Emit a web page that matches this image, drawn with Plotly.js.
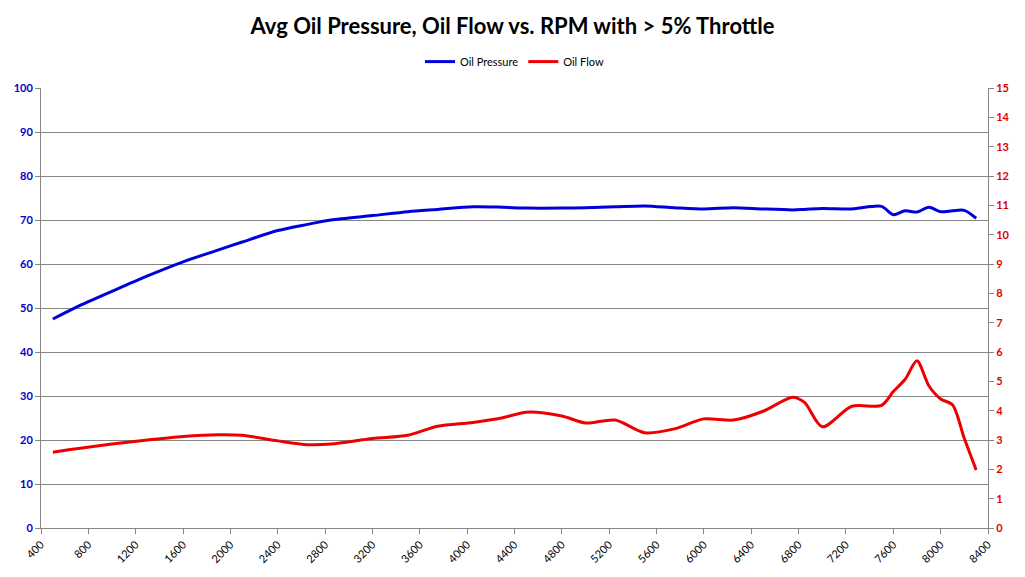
<!DOCTYPE html>
<html>
<head>
<meta charset="utf-8">
<script src="https://cdn.plot.ly/plotly-3.0.1.min.js"></script>
<style>
  html, body { margin: 0; padding: 0; background: #fff; }
  #myDiv { width: 1025px; height: 577px; outline: 1px solid #8c8c8c; outline-offset: -1px; }
</style>
</head>
<body>
<div id="myDiv"></div>
<script>
// rpm samples
var rpm = [500, 700, 1000, 1300, 1600, 1900, 2100, 2400, 2650, 2850, 3200, 3500, 3750, 4050,
           4300, 4500, 4800, 5000, 5250, 5500, 5750, 6000, 6250, 6500, 6750, 6850, 7000,
           7250, 7500, 7600, 7700, 7800, 7900, 8000, 8100, 8200, 8300];

var oilPressure = [47.5, 50.2, 53.8, 57.3, 60.5, 63.2, 65.0, 67.6, 69.0, 70.0, 71.0, 71.9, 72.4, 73.0,
                   72.9, 72.7, 72.7, 72.8, 73.0, 73.2, 72.8, 72.5, 72.8, 72.5, 72.3, 72.4, 72.6,
                   72.5, 73.1, 71.2, 72.1, 71.8, 72.9, 71.9, 72.1, 72.2, 70.4];

var oilFlow = [2.58, 2.70, 2.86, 3.00, 3.12, 3.18, 3.16, 2.97, 2.84, 2.86, 3.05, 3.16, 3.47, 3.60,
               3.76, 3.95, 3.82, 3.58, 3.68, 3.25, 3.38, 3.72, 3.68, 3.98, 4.46, 4.28, 3.45,
               4.15, 4.18, 4.65, 5.07, 5.70, 4.85, 4.40, 4.20, 3.05, 1.98];

var xTicks = [];
for (var t = 400; t <= 8400; t += 400) xTicks.push(t);

var pressureTrace = {
  x: rpm,
  y: oilPressure,
  mode: 'lines',
  type: 'scatter',
  name: 'Oil Pressure',
  line: { color: '#0000dd', width: 3, shape: 'spline', smoothing: 0.8 },
  yaxis: 'y'
};

var flowTrace = {
  x: rpm,
  y: oilFlow,
  mode: 'lines',
  type: 'scatter',
  name: 'Oil Flow',
  line: { color: '#ee0000', width: 3, shape: 'spline', smoothing: 0.8 },
  yaxis: 'y2'
};

var layout = {
  width: 1025,
  height: 577,
  margin: { l: 41, r: 37, t: 88, b: 49 },
  paper_bgcolor: 'white',
  plot_bgcolor: 'white',
  font: { family: 'Lato, sans-serif', size: 11, color: 'black' },
  title: {
    text: '<b>Avg Oil Pressure, Oil Flow vs. RPM with &gt; 5% Throttle</b>',
    font: { family: 'Lato, sans-serif', size: 22, color: 'black' },
    x: 0.5,
    xanchor: 'center',
    y: 0.955,
    yanchor: 'middle',
    yref: 'container'
  },
  showlegend: true,
  legend: {
    orientation: 'h',
    x: 0.5,
    xanchor: 'center',
    y: 1.06,
    yanchor: 'middle',
    font: { family: 'Lato, sans-serif', size: 11, color: 'black' },
    itemwidth: 30
  },
  xaxis: {
    range: [400, 8400],
    tickvals: xTicks,
    tickangle: -45,
    showgrid: false,
    zeroline: false,
    showline: true,
    linecolor: '#868686',
    linewidth: 1,
    ticks: 'outside',
    ticklen: 5,
    tickcolor: '#868686',
    tickfont: { family: 'Lato, sans-serif', size: 11, color: 'black' }
  },
  yaxis: {
    range: [0, 100],
    dtick: 10,
    showgrid: true,
    gridcolor: '#868686',
    gridwidth: 1,
    zeroline: false,
    showline: true,
    linecolor: '#868686',
    ticks: 'outside',
    ticklen: 5,
    tickcolor: '#868686',
    tickfont: { family: 'Lato, sans-serif', size: 11, color: '#0000cc', weight: 'bold' }
  },
  yaxis2: {
    range: [0, 15],
    dtick: 1,
    overlaying: 'y',
    side: 'right',
    showgrid: false,
    zeroline: false,
    showline: true,
    linecolor: '#868686',
    ticks: 'outside',
    ticklen: 5,
    tickcolor: '#868686',
    tickfont: { family: 'Lato, sans-serif', size: 11, color: '#e00000', weight: 'bold' }
  }
};

Plotly.newPlot('myDiv', [pressureTrace, flowTrace], layout, { displayModeBar: false, staticPlot: true });
</script>
</body>
</html>
